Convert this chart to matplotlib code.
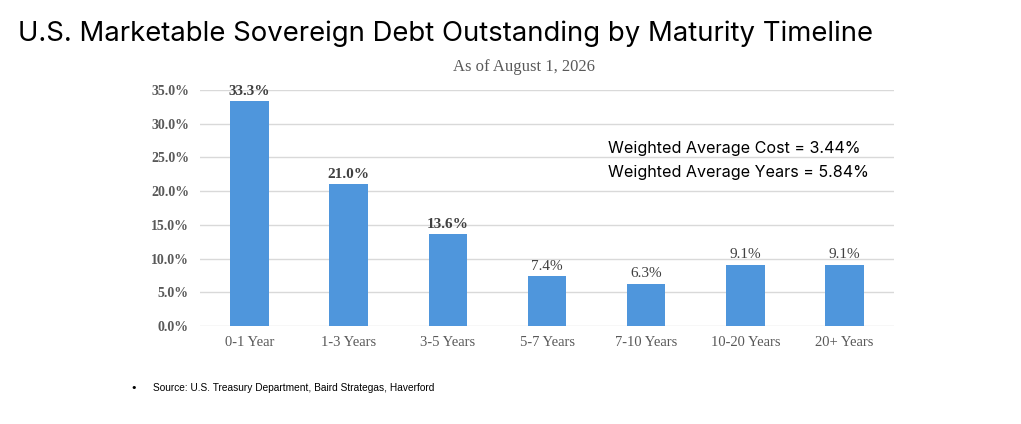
import matplotlib.pyplot as plt
import numpy as np

# chart data
categories = ['0-1 Year', '1-3 Years', '3-5 Years', '5-7 Years', '7-10 Years', '10-20 Years', '20+ Years']
shares = [33.3, 21.0, 13.6, 7.4, 6.3, 9.1, 9.1]
y_ticks = [0, 5, 10, 15, 20, 25, 30, 35]

title = 'U.S. Marketable Sovereign Debt Outstanding by Maturity Timeline'
subtitle = 'As of August 1, 2026'
notes = ['Weighted Average Cost = 3.44%', 'Weighted Average Years = 5.84%']
source = 'Source: U.S. Treasury Department, Baird Strategas, Haverford'

bar_color = '#4F96DC'
grid_color = '#D9D9D9'
label_color = '#595959'
serif = 'Liberation Serif'

fig = plt.figure(figsize=(10.21, 4.24), dpi=100)
ax = fig.add_axes([200 / 1021, 1 - 326 / 424, 694 / 1021, 236 / 424])

x = np.arange(len(categories))
ax.bar(x, shares, width=0.39, color=bar_color, zorder=3)
ax.set_xlim(-0.5, len(categories) - 0.5)
ax.set_ylim(0, 35)

ax.set_yticks(y_ticks)
ax.set_yticklabels([f'{v:.1f}%' for v in y_ticks], fontfamily=serif,
                   fontsize=10, fontweight='bold', color=label_color)
ax.set_xticks(x)
ax.set_xticklabels(categories, fontfamily=serif, fontsize=10.5, color=label_color)
ax.tick_params(length=0, pad=8)
ax.tick_params(axis='x', pad=7)
ax.grid(axis='y', color=grid_color, linewidth=1, zorder=0)
for s in ax.spines.values():
    s.set_visible(False)

for i, v in enumerate(shares):
    ax.text(i, v + 0.5, f'{v:.1f}%', ha='center', va='bottom', fontfamily=serif,
            fontsize=11, fontweight='bold' if i < 3 else 'normal', color='#404040')

fig.text(18 / 1021, 1 - 34 / 424, title, fontfamily='Inter', fontsize=19.8,
         va='center', ha='left', color='black')
fig.text(524 / 1021, 1 - 67 / 424, subtitle, fontfamily=serif, fontsize=12,
         va='center', ha='center', color=label_color)
fig.text(608 / 1021, 1 - 149 / 424, notes[0], fontfamily='Inter', fontsize=11.6,
         va='center', ha='left', color='black')
fig.text(608 / 1021, 1 - 172 / 424, notes[1], fontfamily='Inter', fontsize=11.6,
         va='center', ha='left', color='black')
fig.text(130 / 1021, 1 - 388 / 424, '\u2022', fontsize=8, va='center', ha='left')
fig.text(153 / 1021, 1 - 388 / 424, source, fontfamily='Liberation Sans',
         fontsize=7.3, va='center', ha='left', color='black')

fig.savefig('out.png', dpi=100)
